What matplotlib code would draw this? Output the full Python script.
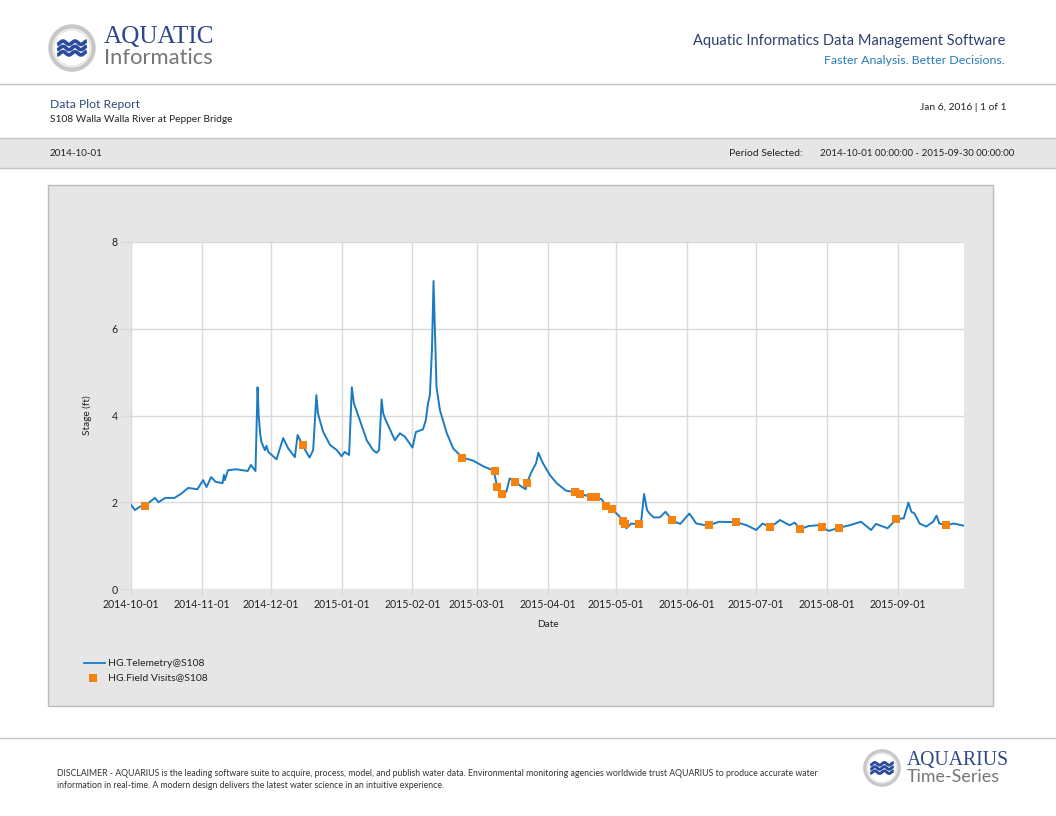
import numpy as np
import pandas as pd
import matplotlib
matplotlib.use("Agg")
import matplotlib.pyplot as plt
from matplotlib.patches import Rectangle, Circle
from matplotlib.lines import Line2D

# ---------------- data ----------------
START = "2014-10-01"
END = "2015-09-30"

# telemetry: days after 2014-10-01 and stage (ft)
tele_days = [0, 1.7, 4, 6, 8, 10.5, 12, 15, 19, 22, 25, 29, 31.5, 33, 35, 37, 40, 40.6, 41,
             42.4, 46, 51, 52.4, 54.4, 55.3, 55.8, 56.5, 57, 58.5, 59.2, 60, 63.6, 66.5, 68.6,
             71.6, 72.8, 75, 78, 79.6, 81, 81.7, 82.5, 84, 87, 90, 92, 93.4, 95.3, 96.5, 97.4,
             100, 103, 105.8, 107.3, 108.4, 109.5, 110.2, 111, 113, 115.3, 117.5, 119.7, 123,
             124.5, 127.6, 128.8, 129.8, 130.6, 131.5, 132.2, 133, 133.5, 135, 138, 140.8,
             144.8, 149.5, 153.9, 158.5, 159.4, 160, 161, 162.3, 164, 165.5, 168, 170.6,
             172.5, 173, 175, 177, 178, 180, 183, 186, 190, 194, 196, 201, 203, 205.6, 207.7,
             210, 213, 215, 216.5, 218.6, 221.5, 223, 224.2, 225.5, 226.6, 228.4, 231, 233.6,
             236.5, 240, 244, 247, 252, 257, 264.5, 269, 273.2, 276, 279.3, 283.6, 287.8,
             290, 292.4, 296, 300, 302, 305, 309.3, 314, 319, 323.4, 325.5, 330.6, 334.4,
             337.7, 339.7, 341, 342.4, 344.6, 347.5, 350.5, 352, 353.2, 356, 359.6, 363.8]
tele_stage = [1.94, 1.82, 1.90, 1.91, 2.00, 2.10, 2.00, 2.10, 2.10, 2.20, 2.33, 2.30, 2.51,
              2.35, 2.58, 2.47, 2.44, 2.63, 2.51, 2.74, 2.76, 2.72, 2.86, 2.72, 4.65, 4.00,
              3.55, 3.39, 3.20, 3.30, 3.16, 2.99, 3.48, 3.25, 3.04, 3.55, 3.31, 3.03, 3.20,
              4.47, 4.05, 3.89, 3.62, 3.32, 3.20, 3.06, 3.16, 3.09, 4.65, 4.28, 3.89, 3.43,
              3.20, 3.14, 3.20, 4.37, 4.05, 3.93, 3.70, 3.43, 3.59, 3.51, 3.26, 3.62, 3.68,
              3.89, 4.28, 4.47, 5.50, 7.10, 5.60, 4.66, 4.12, 3.59, 3.24, 3.03, 2.96, 2.83,
              2.73, 2.51, 2.36, 2.25, 2.19, 2.24, 2.55, 2.47, 2.36, 2.30, 2.45, 2.70, 2.90,
              3.14, 2.90, 2.63, 2.44, 2.27, 2.23, 2.19, 2.13, 2.13, 2.07, 1.91, 1.84, 1.70,
              1.57, 1.40, 1.51, 1.49, 1.59, 2.19, 1.82, 1.74, 1.65, 1.65, 1.78, 1.58, 1.50,
              1.74, 1.51, 1.46, 1.55, 1.54, 1.47, 1.36, 1.51, 1.42, 1.59, 1.47, 1.53, 1.38,
              1.45, 1.47, 1.42, 1.34, 1.41, 1.47, 1.55, 1.36, 1.50, 1.40, 1.61, 1.63, 1.99,
              1.78, 1.74, 1.51, 1.44, 1.55, 1.69, 1.51, 1.47, 1.51, 1.46]

# field visits: days after 2014-10-01 and stage (ft)
visit_days = [6, 75, 144.8, 159, 160, 162.3, 168, 173, 194, 196, 201, 203, 207.7, 210, 215,
              216, 222, 236.5, 252.4, 264.5, 279.3, 292.4, 302, 309.3, 334.4, 356]
visit_stage = [1.91, 3.31, 3.03, 2.73, 2.36, 2.19, 2.47, 2.45, 2.23, 2.19, 2.13, 2.13, 1.91,
               1.84, 1.57, 1.50, 1.50, 1.58, 1.47, 1.54, 1.42, 1.38, 1.42, 1.41, 1.61, 1.47]

x_tick_labels = ["2014-10-01", "2014-11-01", "2014-12-01", "2015-01-01", "2015-02-01",
                 "2015-03-01", "2015-04-01", "2015-05-01", "2015-06-01", "2015-07-01",
                 "2015-08-01", "2015-09-01"]
y_ticks = [0, 2, 4, 6, 8]

series_names = ["HG.Telemetry@S108", "HG.Field Visits@S108"]

# ---------------- figure ----------------
W, H = 1056, 816
plt.rcParams["font.family"] = ["Lato", "DejaVu Sans"]
fig = plt.figure(figsize=(W / 100, H / 100), dpi=100)
fig.patch.set_facecolor("white")


def fx(px):
    return px / W


def fy(py):
    return 1 - py / H


def rect(x0, y0, x1, y1, fc, ec="none", lw=0.0, z=-5):
    fig.patches.append(Rectangle((fx(x0), fy(y1)), (x1 - x0) / W, (y1 - y0) / H,
                                 transform=fig.transFigure, facecolor=fc,
                                 edgecolor=ec, linewidth=lw, zorder=z))


def hline(y, x0=0, x1=W, color="#c8c8c8", lw=1.0):
    fig.add_artist(Line2D([fx(x0), fx(x1)], [fy(y), fy(y)], transform=fig.transFigure,
                          color=color, lw=lw, zorder=-4))


def txt(x, y, s, **kw):
    kw.setdefault("va", "center")
    fig.text(fx(x), fy(y), s, **kw)


def logo(cx, cy, r):
    la = fig.add_axes([fx(cx - r), fy(cy + r), 2 * r / W, 2 * r / H])
    la.set_xlim(-1, 1)
    la.set_ylim(-1, 1)
    la.set_aspect("equal")
    la.axis("off")
    la.add_patch(Circle((0, 0), 0.9, facecolor="white", edgecolor="#c8c8c8", lw=r * 0.13))
    la.add_patch(Circle((0, 0), 0.76, facecolor="white", edgecolor="#e6e6e6", lw=r * 0.04))
    t = np.linspace(-0.62, 0.62, 80)
    for off in (0.22, 0.0, -0.22):
        la.plot(t, off + 0.07 * np.sin(t * 2 * np.pi * 2.0), color="#2b4c9b",
                lw=r * 0.11, solid_capstyle="butt")


# header
logo(72, 48, 24)
txt(104, 37, "AQUATIC", family="Liberation Serif", fontsize=18.2, color="#2e4788",
    ha="left")
txt(104, 58, "Informatics", fontsize=15.8, color="#767676", ha="left")
txt(1005, 41, "Aquatic Informatics Data Management Software", fontsize=10.5,
    color="#2c3f6e", ha="right")
txt(1005, 60, "Faster Analysis. Better Decisions.", fontsize=8.95, color="#2a7bb5",
    ha="right")
hline(84, color="#c4c4c4", lw=1.0)

txt(50, 104, "Data Plot Report", fontsize=8.7, color="#2b4a78", ha="left")
txt(50, 119, "S108 Walla Walla River at Pepper Bridge", fontsize=7.3, color="#222222",
    ha="left")
txt(1006, 107, "Jan 6, 2016 | 1 of 1", fontsize=7.4, color="#222222", ha="right")

rect(0, 138, W, 168, "#e6e6e6")
hline(138, color="#c4c4c4")
hline(168, color="#c4c4c4")
txt(50, 153, "2014-10-01", fontsize=7.1, color="#222222", ha="left")
txt(803, 153, "Period Selected:", fontsize=7.5, color="#222222", ha="right")
txt(1014, 153, "2014-10-01 00:00:00 - 2015-09-30 00:00:00", fontsize=7.0,
    color="#222222", ha="right")

# chart panel
rect(48, 185, 993, 706, "#e6e6e6", ec="#bcbcbc", lw=1.0)

ax = fig.add_axes([fx(131), fy(589), (964 - 131) / W, (589 - 242) / H])
ax.set_zorder(2)
ax.set_facecolor("white")
base = pd.Timestamp(START)
tx = base + pd.to_timedelta(tele_days, unit="D")
vx = base + pd.to_timedelta(visit_days, unit="D")
ax.plot(tx, tele_stage, color="#1a7bc3", lw=1.4, zorder=3, label=series_names[0])
ax.plot(vx, visit_stage, ls="none", marker="s", ms=5.2, color="#f7830f",
        markeredgewidth=0, zorder=4, label=series_names[1])

ax.set_xlim(pd.Timestamp(START), pd.Timestamp(END))
ax.set_ylim(0, 8)
ax.set_xticks(pd.to_datetime(x_tick_labels))
ax.set_xticklabels(x_tick_labels)
ax.set_yticks(y_ticks)
ax.set_yticklabels([str(v) for v in y_ticks])
ax.grid(True, color="#d9d9d9", lw=1.0)
ax.set_axisbelow(True)
for s in ax.spines.values():
    s.set_visible(False)
ax.tick_params(axis="x", length=4.5, width=1.0, color="#d9d9d9", pad=3,
               labelsize=7.6, labelcolor="#222222")
ax.tick_params(axis="y", length=7.5, width=1.0, color="#d9d9d9", pad=2,
               labelsize=7.6, labelcolor="#222222")
ax.set_xlabel("Date", fontsize=7.2, color="#222222", labelpad=7)
ax.set_ylabel("Stage (ft)", fontsize=7.2, color="#222222", labelpad=14)

# legend (drawn in figure space)
fig.add_artist(Line2D([fx(84), fx(105)], [fy(663), fy(663)], transform=fig.transFigure,
                      color="#1a7bc3", lw=1.3))
fig.add_artist(Line2D([fx(93)], [fy(678)], transform=fig.transFigure, ls="none",
                      marker="s", ms=5.2, color="#f7830f", markeredgewidth=0))
txt(108, 663, series_names[0], fontsize=7.5, color="#222222", ha="left")
txt(108, 678, series_names[1], fontsize=7.5, color="#222222", ha="left")

# footer
hline(738, color="#c4c4c4")
txt(57, 773, "DISCLAIMER - AQUARIUS is the leading software suite to acquire, process, model, "
    "and publish water data. Environmental monitoring agencies worldwide trust AQUARIUS to "
    "produce accurate water", fontsize=6.3, color="#333333", ha="left")
txt(57, 785, "information in real-time. A modern design delivers the latest water science in "
    "an intuitive experience.", fontsize=6.3, color="#333333", ha="left")
logo(882, 768, 19)
txt(907, 760, "AQUARIUS", family="Liberation Serif", fontsize=14.2, color="#2e4788",
    ha="left")
txt(907, 777, "Time-Series", fontsize=12.9, color="#767676", ha="left")

fig.savefig("out.png", dpi=100)
